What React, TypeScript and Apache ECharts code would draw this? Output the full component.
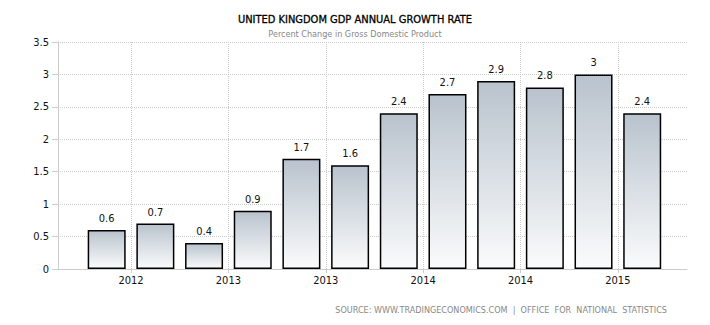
import React, { useEffect, useRef } from "react";
import * as echarts from "echarts";

const values: number[] = [0.6, 0.7, 0.4, 0.9, 1.7, 1.6, 2.4, 2.7, 2.9, 2.8, 3, 2.4];
const tickLabels: string[] = ["2012", "2013", "2013", "2014", "2014", "2015"];
const tickPositions: number[] = [1.5, 3.5, 5.5, 7.5, 9.5, 11.5];
const titleText = "UNITED KINGDOM GDP ANNUAL GROWTH RATE";
const subtitleText = "Percent Change in Gross Domestic Product";
const sourceText = "SOURCE: WWW.TRADINGECONOMICS.COM  |  OFFICE  FOR  NATIONAL  STATISTICS";

export default function App() {
  const ref = useRef<HTMLDivElement>(null);
  useEffect(() => {
    if (!ref.current) return;
    const chart = echarts.init(ref.current, undefined, { renderer: "svg" });
    const cond = "DejaVu Sans Condensed";
    chart.setOption({
      animation: false,
      backgroundColor: "#fff",
      textStyle: { fontFamily: cond },
      title: {
        text: titleText,
        subtext: subtitleText,
        left: "center",
        top: 9,
        itemGap: 4,
        textStyle: { fontFamily: cond, fontSize: 11, fontWeight: "normal", color: "#000", textBorderColor: "#000", textBorderWidth: 0.3 },
        subtextStyle: { fontFamily: cond, fontSize: 9, color: "#888" },
      },
      grid: { left: 58, right: 23, top: 42, bottom: 56, containLabel: false },
      xAxis: {
        type: "value",
        min: 0,
        max: 12.92,
        axisLine: { show: true, lineStyle: { color: "#ccc", width: 1 } },
        axisTick: {
          show: true,
          customValues: tickPositions,
          length: 4,
          lineStyle: { color: "#ccc" },
        },
        axisLabel: {
          customValues: tickPositions,
          formatter: (v: number) => {
            const i = tickPositions.findIndex((p) => Math.abs(p - v) < 1e-6);
            return i >= 0 ? tickLabels[i] : "";
          },
          color: "#111",
          fontSize: 11,
          margin: 6,
          fontFamily: cond,
        },
        splitLine: { show: false },
      },
      yAxis: {
        type: "value",
        min: 0,
        max: 3.5,
        interval: 0.5,
        axisLine: { show: true, lineStyle: { color: "#ccc", width: 1 } },
        axisTick: { show: true, length: 6, lineStyle: { color: "#ccc" } },
        axisLabel: { color: "#111", fontSize: 11, margin: 9, fontFamily: cond },
        splitLine: { show: true, lineStyle: { color: "#ccc", type: "dotted" } },
      },
      series: [
        {
          type: "bar",
          data: values.map((v, i) => [i + 1, v]),
          barWidth: 38,
          itemStyle: {
            color: new echarts.graphic.LinearGradient(0, 0, 0, 1, [
              { offset: 0, color: "#b9c3cd" },
              { offset: 1, color: "#fafbfc" },
            ]),
            borderColor: "#000",
            borderWidth: 1.5,
          },
          label: {
            show: true,
            position: "top",
            distance: 6,
            color: "#111",
            fontSize: 11,
            fontFamily: cond,
            formatter: (p: any) => String(p.value[1]),
          },
          markLine: {
            silent: true,
            symbol: ["none", "none"],
            label: { show: false },
            lineStyle: { color: "#ccc", type: "dotted", width: 1 },
            data: tickPositions.map((x) => ({ xAxis: x })),
          },
        },
      ],
      graphic: [
        {
          type: "text",
          right: 43,
          top: 305,
          style: {
            text: sourceText,
            fill: "#888",
            fontSize: 9,
            fontFamily: cond,
          },
        },
      ],
    });
    return () => chart.dispose();
  }, []);
  return (
    <div
      ref={ref}
      style={{ position: "fixed", left: 0, top: 0, width: 710, height: 325 }}
    />
  );
}
